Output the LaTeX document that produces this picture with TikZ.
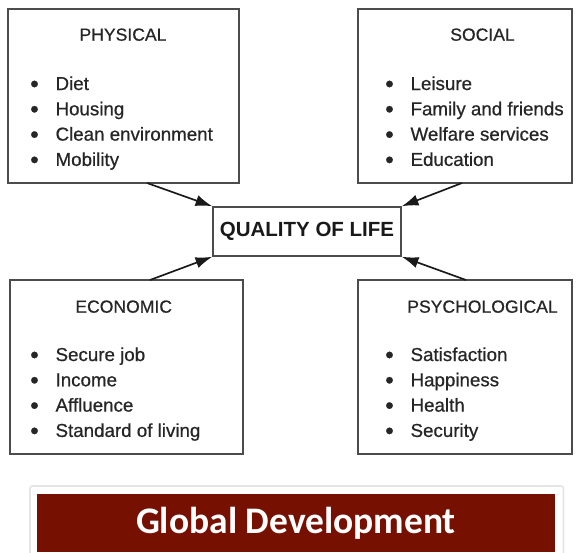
\documentclass[tikz,border=0pt]{standalone}
\usepackage{fontspec}
\setmainfont{Liberation Sans}
\newfontfamily\listfont{Liberation Sans}[FakeBold=0.7]
\newfontfamily\bannerfont{Carlito}
\usetikzlibrary{arrows.meta}

\definecolor{bannerred}{RGB}{118,16,0}
\newcommand\itembullet{\makebox[0.76cm][l]{\raisebox{-0.11em}{\scalebox{1.3}{\textbullet}}}}

\tikzset{
  factorbox/.style={draw=black!70, line width=0.045cm, inner sep=0pt},
  heading/.style={anchor=base, inner sep=0pt, text=black!85, font=\listfont\fontsize{15}{18}\selectfont},
  item/.style={anchor=base west, inner sep=0pt, text=black!85, font=\listfont\fontsize{16}{19}\selectfont},
  feed/.style={-{Latex[length=0.5cm,width=0.34cm]}, line width=0.05cm, black!90}
}

\begin{document}
\begin{tikzpicture}[x=0.03cm,y=-0.03cm]
\useasboundingbox (0,0) rectangle (581,552);

% boxes
\node[factorbox, minimum width=6.93cm, minimum height=5.22cm] (physical) at (123.5,96) {};
\node[factorbox, minimum width=6.42cm, minimum height=5.22cm] (social) at (465,96) {};
\node[factorbox, minimum width=6.99cm, minimum height=5.22cm] (economic) at (126.5,367) {};
\node[factorbox, minimum width=6.42cm, minimum height=5.22cm] (psychological) at (465,367) {};
\node[factorbox, minimum width=5.64cm, minimum height=1.47cm,
      font=\bfseries\fontsize{17.5}{20}\selectfont, text=black!90] (quality) at (307,231.5) {QUALITY OF LIFE};

% physical
\node[heading] (physical-title) at (123,40.7) {PHYSICAL};
\node[item] (physical-1) at (30,90) {\itembullet Diet};
\node[item] (physical-2) at (30,115.3) {\itembullet Housing};
\node[item] (physical-3) at (30,140.6) {\itembullet Clean environment};
\node[item] (physical-4) at (30,165.9) {\itembullet Mobility};

% social
\node[heading] (social-title) at (482.5,40.7) {SOCIAL};
\node[item] (social-1) at (385,90) {\itembullet Leisure};
\node[item] (social-2) at (385,115.3) {\itembullet Family and friends};
\node[item] (social-3) at (385,140.6) {\itembullet Welfare services};
\node[item] (social-4) at (385,165.9) {\itembullet Education};

% economic
\node[heading] (economic-title) at (123.7,312.7) {ECONOMIC};
\node[item] (economic-1) at (30,361) {\itembullet Secure job};
\node[item] (economic-2) at (30,386.3) {\itembullet Income};
\node[item] (economic-3) at (30,411.6) {\itembullet Affluence};
\node[item] (economic-4) at (30,436.9) {\itembullet Standard of living};

% psychological
\node[heading] (psychological-title) at (482.5,312.7) {PSYCHOLOGICAL};
\node[item] (psychological-1) at (385,361) {\itembullet Satisfaction};
\node[item] (psychological-2) at (385,386.3) {\itembullet Happiness};
\node[item] (psychological-3) at (385,411.6) {\itembullet Health};
\node[item] (psychological-4) at (385,436.9) {\itembullet Security};

% arrows into the middle box
\coordinate (physical-out) at (147,183);
\coordinate (social-out) at (462,183);
\coordinate (economic-out) at (150,280);
\coordinate (psychological-out) at (466,280);
\draw[feed] (physical-out) -- (quality.north west);
\draw[feed] (social-out) -- (quality.north east);
\draw[feed] (economic-out) -- (quality.south west);
\draw[feed] (psychological-out) -- (quality.south east);

% title bar
\filldraw[fill=white, draw=black!10, line width=0.05cm, rounded corners=2pt] (30,486) rectangle (563.5,560);
\node[fill=bannerred, inner sep=0pt, minimum width=15.53cm, minimum height=1.74cm,
      text=white, font=\bannerfont\bfseries\fontsize{32}{36}\selectfont] (banner) at (296,523) {Global Development};

\end{tikzpicture}
\end{document}
